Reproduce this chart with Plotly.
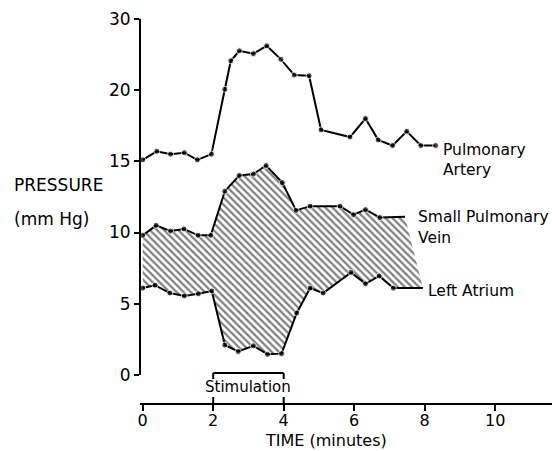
import plotly.graph_objects as go

# ---- data (mmHg vs minutes) ----
artery_t = [0, 0.4, 0.79, 1.18, 1.55, 1.95, 2.33, 2.5, 2.74, 3.14, 3.52, 3.92, 4.3, 4.72, 5.06, 5.88, 6.32, 6.68, 7.09, 7.49, 7.89, 8.31]
artery_p = [15.1, 15.7, 15.5, 15.6, 15.1, 15.5, 20.1, 24.1, 25.5, 25.1, 26.2, 24.3, 22.1, 22.0, 17.2, 16.7, 18.0, 16.5, 16.1, 17.1, 16.1, 16.1]

vein_t = [0, 0.38, 0.79, 1.17, 1.57, 1.93, 2.33, 2.74, 3.14, 3.5, 3.96, 4.35, 4.75, 5.6, 5.98, 6.32, 6.73, 7.44]
vein_p = [9.8, 10.5, 10.1, 10.25, 9.8, 9.8, 12.9, 14.0, 14.1, 14.7, 13.5, 11.55, 11.85, 11.85, 11.25, 11.6, 11.05, 11.1]

atrium_t = [0, 0.35, 0.77, 1.18, 1.58, 1.96, 2.33, 2.71, 3.14, 3.54, 3.94, 4.37, 4.75, 5.12, 5.91, 6.32, 6.71, 7.11, 7.95]
atrium_p = [6.1, 6.3, 5.75, 5.55, 5.7, 5.9, 2.1, 1.65, 2.05, 1.45, 1.5, 4.35, 6.1, 5.75, 7.2, 6.4, 6.95, 6.1, 6.1]

y_ticks = [0, 5, 10, 15, 20, 30]
x_ticks = [0, 2, 4, 6, 8, 10, 12]
stim_start, stim_end = 2, 4

# The pressure axis is compressed above 20 mmHg (half scale)
BREAK = 20
def sc(v):
    return v if v <= BREAK else BREAK + (v - BREAK) / 2.0

def scl(vals):
    return [sc(v) for v in vals]

FONT = "DejaVu Sans"
fig = go.Figure()

# hatched region between small pulmonary vein and left atrium
poly_x = vein_t + atrium_t[::-1]
poly_y = scl(vein_p) + scl(atrium_p)[::-1]
fig.add_trace(go.Scatter(
    x=poly_x, y=poly_y, mode="lines", fill="toself",
    line=dict(width=0, color="rgba(0,0,0,0)"),
    fillcolor="white",
    fillpattern=dict(shape="\\", size=5, solidity=0.45, fgcolor="black", bgcolor="white"),
    hoverinfo="skip", showlegend=False))

def line_trace(t, p, last_marker=True):
    sizes = [6] * len(t)
    if not last_marker:
        sizes[-1] = 0
    return go.Scatter(x=t, y=scl(p), mode="lines+markers",
                      line=dict(color="black", width=2),
                      marker=dict(color="black", size=sizes),
                      showlegend=False)

fig.add_trace(line_trace(vein_t, vein_p, last_marker=False))
fig.add_trace(line_trace(atrium_t, atrium_p, last_marker=False))
fig.add_trace(line_trace(artery_t, artery_p, last_marker=True))

def px2x(px):
    return (px - 142.7) / 35.25

def py2y(py):
    return (375 - py) / 14.25

def py2paper(py):
    return (403 - py) / 395.0

def seg(x0, x1, y0, y1, xref="x", yref="y"):
    return dict(type="line", xref=xref, yref=yref, x0=x0, x1=x1, y0=y0, y1=y1,
                line=dict(color="black", width=2))

shapes = [
    seg(0.0, 0.0, sc(0), sc(30), xref="paper"),                       # y-axis line 0..30
    seg(stim_start, stim_end, py2y(373), py2y(373)),                   # stimulation bracket
    seg(stim_start, stim_start, py2y(373), py2y(379)),
    seg(stim_end, stim_end, py2y(373), py2y(379)),
    seg(stim_start, stim_start, py2y(403), py2y(397)),                 # upward tick parts
    seg(stim_end, stim_end, py2y(403), py2y(397)),
]

lab = dict(family=FONT, size=15.5, color="black")
ann = [
    dict(x=px2x(441), y=py2y(150), text="Pulmonary", xanchor="left", yanchor="middle", font=lab),
    dict(x=px2x(441), y=py2y(170), text="Artery", xanchor="left", yanchor="middle", font=lab),
    dict(x=px2x(416), y=py2y(217), text="Small Pulmonary", xanchor="left", yanchor="middle", font=lab),
    dict(x=px2x(416), y=py2y(238), text="Vein", xanchor="left", yanchor="middle", font=lab),
    dict(x=px2x(426), y=py2y(291), text="Left Atrium", xanchor="left", yanchor="middle", font=lab),
    dict(x=(stim_start + stim_end) / 2, y=py2y(387), text="Stimulation", xanchor="center", yanchor="middle",
         font=dict(family=FONT, size=15, color="black")),
    dict(x=px2x(326), yref="paper", y=py2paper(440), text="TIME (minutes)", xanchor="center", yanchor="middle",
         font=dict(family=FONT, size=16, color="black")),
    dict(xref="paper", x=(12 - 140) / 412, y=py2y(185), text="PRESSURE", xanchor="left", yanchor="middle",
         font=dict(family=FONT, size=17, color="black")),
    dict(xref="paper", x=(12 - 140) / 412, y=py2y(219), text="(mm Hg)", xanchor="left", yanchor="middle",
         font=dict(family=FONT, size=17, color="black")),
]
for a in ann:
    a.setdefault("xref", "x")
    a.setdefault("yref", "y")
    a["showarrow"] = False

fig.update_layout(
    width=552, height=451,
    margin=dict(l=140, r=0, t=8, b=48),
    paper_bgcolor="white", plot_bgcolor="white",
    shapes=shapes, annotations=ann,
    xaxis=dict(range=[px2x(140), px2x(552)], showline=True, linecolor="black", linewidth=2,
               ticks="outside", ticklen=6, tickwidth=2, tickcolor="black",
               ticklabelstandoff=-4,
               tickvals=x_ticks, ticktext=[str(v) for v in x_ticks],
               tickfont=dict(family=FONT, size=16, color="black"),
               showgrid=False, zeroline=False),
    yaxis=dict(range=[py2y(403), py2y(8)], showline=False,
               ticks="outside", ticklen=5, tickwidth=2, tickcolor="black",
               tickvals=[sc(v) for v in y_ticks], ticktext=[str(v) for v in y_ticks],
               tickfont=dict(family=FONT, size=17, color="black"),
               showgrid=False, zeroline=False),
)

fig.write_html("out.html", config={"displayModeBar": False},
               post_script="document.body.style.margin='0';document.body.style.overflow='hidden';")
